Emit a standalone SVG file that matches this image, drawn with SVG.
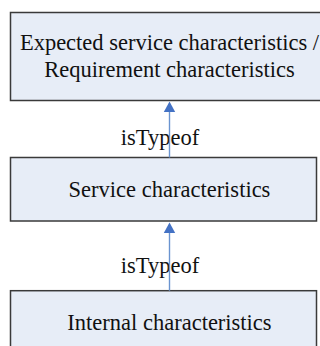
<svg xmlns="http://www.w3.org/2000/svg" width="320" height="346" viewBox="0 0 320 346">
<style>
.box{fill:#E7EDF7;stroke:#3A3A3A;stroke-width:1.5}
.t{font-family:"Liberation Serif","Times New Roman",serif;font-size:22.5px;fill:#111;text-anchor:middle}
.ln{stroke:#6A94D0;stroke-width:1.4;fill:none}
.hd{fill:#4472C4}
</style>
<rect width="320" height="346" fill="#FFFFFF"/>
<g id="node-expected">
<rect class="box" x="10.5" y="12.5" width="312" height="88"/>
<text class="t" x="169.5" y="49.5">Expected service characteristics /</text>
<text class="t" x="169.5" y="77">Requirement characteristics</text>
</g>
<g id="node-service">
<rect class="box" x="10.5" y="157.5" width="306" height="63.5"/>
<text class="t" x="169.5" y="197.3">Service characteristics</text>
</g>
<g id="node-internal">
<rect class="box" x="10.5" y="290.7" width="306" height="70"/>
<text class="t" x="169.5" y="330">Internal characteristics</text>
</g>
<g id="connectors">
<text class="t" x="160" y="145">isTypeof</text>
<text class="t" x="160" y="273">isTypeof</text>
<line class="ln" x1="169.5" y1="110" x2="169.5" y2="157.5"/>
<polygon class="hd" points="169.5,101.5 163.8,112 175.2,112"/>
<line class="ln" x1="169.5" y1="232" x2="169.5" y2="290.7"/>
<polygon class="hd" points="169.5,222.5 163.8,233 175.2,233"/>
</g>
</svg>
